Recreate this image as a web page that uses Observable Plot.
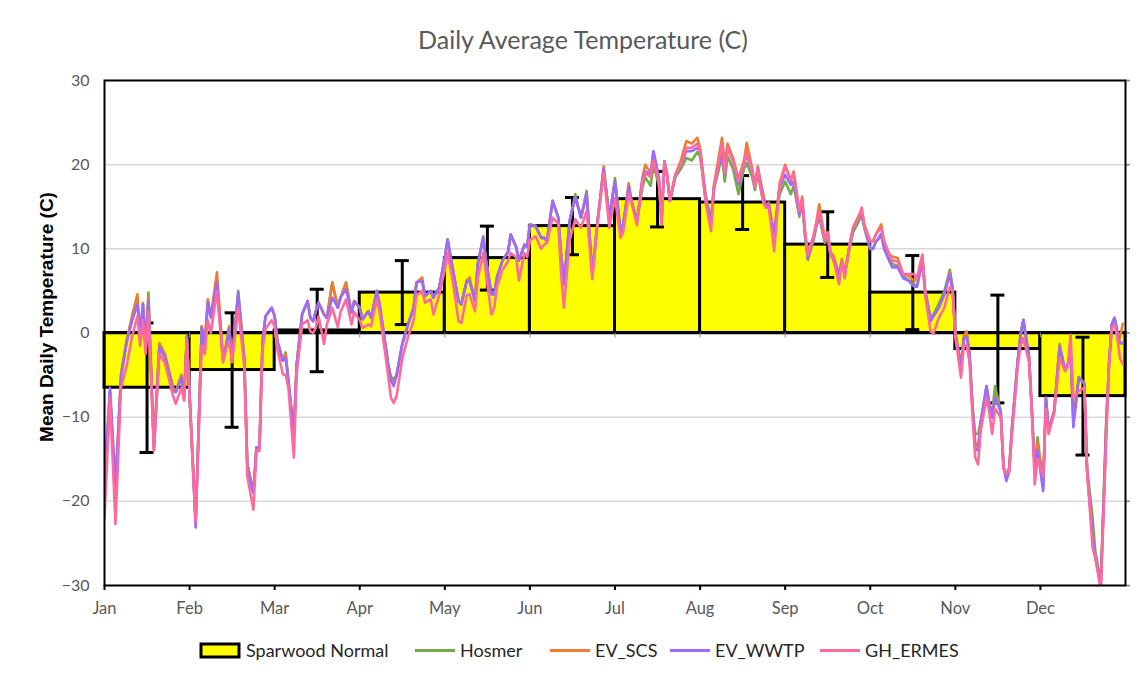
<!DOCTYPE html>
<html>
<head>
<meta charset="utf-8">
<script src="https://cdn.jsdelivr.net/npm/d3@7"></script>
<script src="https://cdn.jsdelivr.net/npm/@observablehq/plot@0.6"></script>
<style>
  html, body { margin: 0; padding: 0; background: #fff; }
  #wrap { position: relative; width: 1148px; height: 677px; overflow: hidden; font-family: Lato, "Open Sans", sans-serif; }
  #title { position: absolute; top: 27px; left: 0; width: 1166px; text-align: center; font-size: 25px; color: #595959; line-height: 1; }
  #chart { position: absolute; top: 0; left: 0; }
  #ylab { position: absolute; left: 46px; top: 317px; transform: translate(-50%, -50%) rotate(-90deg); white-space: nowrap; font-family: "Liberation Sans", Arial, sans-serif; font-weight: bold; font-size: 19px; color: #000; line-height: 1; }
  #legend { position: absolute; top: 636px; left: 0; }
</style>
</head>
<body>
<div id="wrap">
  <div id="chart"></div>
  <div id="title">Daily Average Temperature (C)</div>
  <div id="ylab">Mean Daily Temperature (C)</div>
  <div id="legend"></div>
</div>
<script>
// ---- Tick labels / categories ----
const months = ["Jan","Feb","Mar","Apr","May","Jun","Jul","Aug","Sep","Oct","Nov","Dec"];
const monthDays = [31,28,31,30,31,30,31,31,30,31,30,31];
const yTicks = [-30,-20,-10,0,10,20,30];

// ---- Sparwood climate normal (monthly mean, +/- spread) ----
const normals   = [-6.5,-4.4,0.3,4.8,8.9,12.7,15.9,15.5,10.5,4.8,-1.9,-7.5];
const normalErr = [7.7,6.8,4.9,3.8,3.8,3.4,3.3,3.2,3.9,4.4,6.4,7.0];

// ---- Daily series: day of year (0 = Jan 1) ----
const days = [
  0,2,4,6,8,10,12,13,14,15,16,18,20,22,25,26,28,29,30,
  33,35,36,37,38,40,42,43,44,45,47,49,50,52,53,54,55,56,58,
  59,60,62,63,64,66,67,69,71,72,73,74,75,77,78,80,82,83,85,87,88,90,
  91,93,94,96,97,99,100,101,102,103,105,107,109,110,112,113,115,116,118,120,
  121,123,125,126,128,129,131,132,134,135,137,138,139,141,143,144,146,147,149,150,
  151,153,155,156,157,159,161,162,163,165,167,169,171,173,175,177,179,
  181,183,184,186,187,189,191,192,194,195,197,198,199,200,201,203,205,207,209,211,
  212,214,216,217,220,221,222,224,226,228,229,231,232,233,235,236,237,238,239,241,
  243,245,246,248,249,250,251,253,254,255,257,258,259,260,262,263,264,266,267,269,270,271,
  273,274,275,277,278,280,281,283,285,287,289,290,292,293,295,296,298,300,302,303,
  304,306,307,308,309,310,311,312,313,315,316,317,318,320,321,322,323,324,326,327,328,330,331,332,333,
  335,336,337,339,341,343,344,345,346,348,350,351,353,354,356,358,359,360,361,362,363,364
];

const hosmer = [
  -19,-7,-19,-5,-1,1.6,3.8,-0.5,3.4,-1.5,4.8,-13.5,-1.5,-2.5,-6.5,-7,-5,-7.5,-0.4,
  -22.5,0.8,-1.5,3.8,1.8,6.3,-3,-1.5,0.6,-3,5,-3,-15.5,-19,-13.6,-13.6,-1,2,3,
  2,-1,-3.3,-2.3,-5.7,-12,-3.8,2.2,3.8,1.8,1.4,2.6,3.6,2.2,1.8,6,3,4.2,6,2.4,3.8,3,
  1.6,2.6,1.8,5,3.4,-1.3,-3.7,-5.2,-5.5,-5,-1.3,1,3,6,6.2,4.4,5,4.2,5.4,8.9,
  11.1,7.4,3.8,3.4,6.2,6.2,3.8,8.2,11.5,8.6,4.6,4.6,6.6,8.6,9.6,11.7,10.2,8.6,10.5,10.2,
  12.9,12.7,11.3,11.3,10.9,15.7,13.7,9.2,5.8,13.3,16.5,13.7,16.9,7,13.7,19.5,13.7,
  18.4,12.1,12.9,17.3,15.7,13.3,17.3,18.5,17.5,20,17.5,13.5,20,18.5,15.7,18.5,19.5,20.8,20.5,21.5,
  21,16.1,13.5,17,21,18,21,19.5,16.5,19.5,20.2,18.5,17,19,15.5,15,15.3,13.3,12,16.5,
  18,16.5,17.5,13.8,15.5,11.5,8.7,11,12.6,13.8,10.7,11.5,9.2,8.7,6.8,8.3,7,10.5,12,13.3,14,12.3,
  10,10,10.8,11.5,10.3,8.8,8.2,8,6.8,6.3,5.8,5.5,8.5,5,1.8,2.2,3.5,5,7.5,5.5,
  0,-4,-0.6,0,-2.5,-8.5,-12,-12,-10.5,-6.3,-8.5,-9.5,-6.3,-9.3,-16,-17,-16,-11.2,-3.3,-0.2,1.5,-2.9,-9.3,-16,-12.4,
  -18,-7.7,-11.5,-9.3,-1.3,-4.5,-3.7,-2,-10,-5.2,-6,-16,-21.9,-26,-29.5,-10,-3.7,1,1.8,0.2,-1.2,-1.2
];

const evScs = [
  -18,-7,-19.5,-5,-1,2,4.6,-1,3.6,-1.8,4.2,-13.5,-1.2,-2.5,-6.5,-7,-5,-7.5,-0.4,
  -22.5,0.8,-1.5,4,2,7.2,-3,-1.5,0.8,-3,4.5,-3,-15.5,-19,-13.6,-13.6,-1,2,3,
  2,-1,-3.3,-2.5,-5.7,-12,-3.8,2.2,3.8,1.8,1.4,2.6,3.6,2.2,1.8,6,3,4.2,6,2.4,3.8,3,
  1.6,2.6,1.8,5,3.4,-1.3,-3.7,-5.5,-6,-5,-1.3,1,3,6,6.6,4.4,5,4.2,5.4,8.9,
  11.1,7.4,3.8,3.4,6.2,6.6,3.8,8.2,11.3,8.6,4.6,4.6,6.6,8.6,9.6,11.7,10.2,8.6,10.5,10.2,
  12.9,12.7,11.3,11.3,10.9,15.7,13.7,9.2,5.8,13.3,16.1,13.7,16.5,7,13.7,19.8,13.7,
  18,12.1,12.9,17.8,15.7,13.3,18.4,20,19,21.6,18.4,13.5,20.4,18.8,15.7,18.8,20.5,22.8,22.5,23.2,
  22,16.5,13,17.5,23.2,20,22.5,20.8,18.3,20.5,22.6,19.5,17.5,19.8,16.5,15,15.5,13.5,11.7,17.8,
  20,18,19.2,14.5,16.2,12,9.5,11.5,13.2,15.3,11.2,12,9.6,9.2,7,8.8,7.2,11,12.6,14,14.6,12.8,
  10.9,10.9,11.7,12.9,10.9,9.3,9.1,8.9,7,6.8,6.2,6.4,9.3,5,1.4,2,3,4.6,7.3,5.2,
  0,-3.8,-0.3,0.2,-2.5,-8.5,-13,-13.5,-10.5,-6.5,-8.5,-10,-7.5,-9.3,-16,-17,-16,-11.2,-3.3,-0.2,1.5,-2.9,-9.3,-16.5,-13,
  -18.5,-7.7,-11.8,-9.3,-1.5,-4.5,-3.7,-2,-10.5,-5.3,-6,-16.4,-24,-26.5,-30,-11,-3.7,1,1.8,0.2,-0.5,1.1
];

const evWwtp = [
  -17,-6.5,-17.9,-5.3,-1.3,1.4,3.4,-0.1,3.4,-1.8,3.8,-13.8,-1.7,-2.9,-6.9,-7,-5.3,-8,-0.4,
  -23.1,0.6,-1.7,3.6,1.8,6,-3.3,-1.7,0.4,-3.3,4.8,-3.3,-16,-19,-13.6,-13.6,-1,2,3,
  2,-1,-3.3,-3,-5.7,-12,-3.8,2.2,3.8,1.8,1.4,2.6,3.6,2.2,1.8,4.2,3,4.2,5.2,2.4,3.8,3,
  1.6,2.6,1.8,5,3.4,-1.3,-3.7,-5.7,-6.3,-5,-1.3,1,3,6,6.2,4.4,5,4.2,5.4,8.9,
  11.1,7.4,3.8,3.4,6.2,6.2,3.8,8.2,11.3,8.6,4.6,4.6,6.6,8.6,9.6,11.7,10.2,8.6,10.5,10.2,
  12.9,12.7,11.3,11.3,10.9,15.7,13.7,9.2,5.8,13.3,16.1,13.7,16.5,7,13.7,19.5,13.7,
  18,12.1,12.9,17.3,15.7,13.3,18.4,19.2,18.8,21.6,18.4,14,20.4,18.8,15.7,18.8,20,21.6,21.6,22,
  21.6,16.1,13,17.3,21.6,18.8,22,20.4,17.6,20,21.2,19.2,17.3,19.6,16.1,14.9,15.3,13.3,11.7,17.3,
  18.8,17.6,18,14.1,15.9,11.7,8.9,11.3,12.9,14,10.9,11.7,9.3,8.9,7,8.5,7,10.9,12.5,13.7,14,12.5,
  10,10,10.8,11.8,10,8.5,7.8,7.8,6.5,6.2,5.5,5.5,8.5,5,1.4,2,3,4.6,7,5,
  0,-4.1,-0.6,-0.5,-2.5,-8.5,-13.6,-14,-10.5,-6.3,-8.5,-10.1,-7.7,-9.3,-16,-17.6,-16.4,-11.2,-3.3,-0.2,1.6,-2.9,-9.3,-16,-14,
  -18.8,-7.7,-11.5,-9.3,-1.7,-4.5,-3.7,-2,-11.2,-5.3,-6,-16.4,-24,-26.7,-30,-11,-3.7,1,1.8,0.2,-1.2,-1.2
];

const ghErmes = [
  -22,-7.7,-22.7,-6.5,-4,-0.5,2,-1.5,1.5,-2.5,2.5,-14,-2.5,-3.5,-7.5,-8.4,-6.5,-8,-0.8,
  -22.5,-1.5,-2.5,1.5,0,5,-3.5,-2,-1,-3.5,3,-4,-17,-21,-14,-14,-2,0.5,1.5,
  0.8,-2,-4.9,-5,-6.5,-14.8,-5,1,1.5,0.2,0,0.6,2,-1.3,1,3,0.7,2.5,4,1,2.5,1.5,
  0.6,1,0.8,4,2.5,-2.5,-5,-7.7,-8.3,-7.5,-3,-0.5,1.5,4.5,5,3.6,4,2.2,4.5,7.5,
  9.5,6,1.4,1.2,4.5,4.6,2.6,6.5,9.5,7,2.2,3,5.5,7.5,8.5,9.5,9,6.2,9.5,9,
  11,11.5,10,10.5,10.7,13.7,13,7,3,11,13.5,12.5,14.5,6.4,13.5,19,12.5,
  16,11.3,12,16.5,15.5,12.8,18,19,18.5,20.5,18,12.9,20.4,18.8,15.7,18.8,20,22,22,22.5,
  21.6,15.5,12.1,17,22.5,19,22,20.4,18,20,21.5,19.2,17.3,19.6,15.5,14.9,15,12.5,9.7,17.5,
  19.8,18.2,19,14.5,16,12,9.2,11.5,13,14.5,11,11.8,9.3,8.7,5.8,8.5,6.5,11,12.5,13.8,14.9,12.5,
  10.9,10.9,11.7,12.5,10.9,9.3,8.6,8.5,7,7,7,6.4,9.3,4.5,0.2,-0.1,1.8,3,5.5,5,
  -0.5,-5.3,-1.5,-1.5,-3.5,-9.5,-14.8,-15.6,-11.5,-7.7,-9.5,-12,-9,-10,-16,-16.8,-16.4,-12,-4,-1.5,-0.6,-3.5,-9.5,-18,-15,
  -17,-9,-12,-9.5,-3,-4.5,-4,-0.2,-7.7,-6.9,-6.5,-16.4,-25.5,-26.7,-30.5,-12.4,-3.7,0.6,1,-0.5,-3,-3.7
];

// ---- Series names / colours ----
const seriesNames  = ["Hosmer","EV_SCS","EV_WWTP","GH_ERMES"];
const seriesColors = ["#70AD47","#ED7D31","#9B6BFF","#FF6A9E"];
const seriesValues = [hosmer, evScs, evWwtp, ghErmes];

// month starts for placing days on the equal-width month axis
const monthStart = monthDays.reduce((acc, d, i) => (acc.push(i ? acc[i-1] + monthDays[i-1] : 0), acc), []);
function dayToMonthPos(d) {
  let m = 11;
  while (m > 0 && d < monthStart[m]) m--;
  return m + (d - monthStart[m]) / monthDays[m];
}

const normalRows = normals.map((v, i) => ({x1: i, x2: i + 1, y1: 0, y2: v}));
const errRows = normals.map((v, i) => ({x: i + 0.5, lo: v - normalErr[i], hi: v + normalErr[i]}));
const capRows = errRows.flatMap(r => [{x: r.x, y: r.lo}, {x: r.x, y: r.hi}]);

const lineMarks = seriesValues.map((vals, s) =>
  Plot.line(days.map((d, i) => ({x: dayToMonthPos(d), y: vals[i]})), {
    x: "x", y: "y", stroke: seriesColors[s], strokeWidth: 2.6, clip: true, strokeLinejoin: "round"
  })
);

const chart = Plot.plot({
  width: 1148,
  height: 620,
  marginLeft: 104,
  marginRight: 23,
  marginTop: 80,
  marginBottom: 35,
  x: {domain: [0, 12], label: null},
  y: {domain: [-30, 30], label: null},
  style: {fontFamily: "Lato, 'Open Sans', sans-serif", background: "transparent", overflow: "visible"},
  marks: [
    Plot.ruleY(yTicks, {stroke: "#d9d9d9", strokeWidth: 1.5}),
    Plot.rect(normalRows, {x1: "x1", x2: "x2", y1: "y1", y2: "y2", fill: "#FFFF00", stroke: "#000", strokeWidth: 3}),
    Plot.ruleY([0], {stroke: "#000", strokeWidth: 2.5}),
    Plot.ruleX(d3.range(13), {x: d => d, y1: d => 0, y2: d => 0, insetBottom: -5, stroke: "#8c8c8c", strokeWidth: 1}),
    Plot.ruleX(errRows, {x: "x", y1: "lo", y2: "hi", stroke: "#000", strokeWidth: 3}),
    Plot.ruleY(capRows, {x1: "x", x2: "x", y: "y", insetLeft: -7, insetRight: -7, stroke: "#000", strokeWidth: 3}),
    ...lineMarks,
    Plot.ruleX(d3.range(12), {x: d => d, y1: d => -30, y2: d => -30, insetBottom: -5, stroke: "#000", strokeWidth: 2}),
    Plot.ruleY(yTicks, {y: d => d, x1: d => 12, x2: d => 12, insetRight: -5, stroke: "#7f7f7f", strokeWidth: 1.5}),
    Plot.axisX(d3.range(12), {anchor: "bottom", tickSize: 0, tickPadding: 17, tickFormat: i => months[i], fontSize: 16.5, color: "#595959", label: null}),
    Plot.axisY(yTicks, {anchor: "left", tickSize: 0, tickPadding: 15, fontSize: 16, color: "#595959", label: null}),
    Plot.frame({stroke: "#000", strokeWidth: 2})
  ]
});
document.getElementById("chart").append(chart);

// ---- Legend ----
const legendItems = [
  {name: "Sparwood Normal", kind: "box", color: "#FFFF00", x: 201},
  ...seriesNames.map((n, i) => ({name: n, kind: "line", color: seriesColors[i], x: [415, 550, 670, 820][i]}))
];
const lg = d3.select("#legend").append("svg").attr("width", 1148).attr("height", 30)
  .style("font-family", "Lato, 'Open Sans', sans-serif").style("font-size", "18px");
legendItems.forEach(it => {
  if (it.kind === "box") {
    lg.append("rect").attr("x", it.x).attr("y", 8).attr("width", 38).attr("height", 13)
      .attr("fill", it.color).attr("stroke", "#000").attr("stroke-width", 3);
  } else {
    lg.append("line").attr("x1", it.x).attr("x2", it.x + 40).attr("y1", 14.5).attr("y2", 14.5)
      .attr("stroke", it.color).attr("stroke-width", 3);
  }
  lg.append("text").attr("x", it.x + 45).attr("y", 20.5).attr("fill", "#262626").text(it.name);
});
</script>
</body>
</html>
